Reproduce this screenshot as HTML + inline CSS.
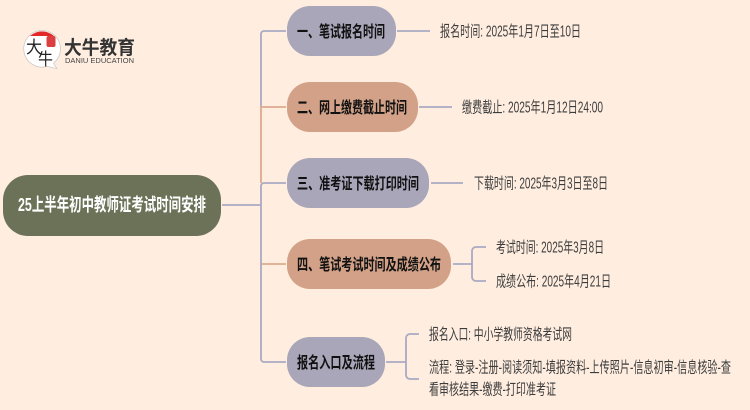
<!DOCTYPE html>
<html lang="zh">
<head>
<meta charset="utf-8">
<title>25上半年初中教师证考试时间安排</title>
<style>
html,body{margin:0;padding:0;background:#ffeee0;width:750px;height:410px;overflow:hidden}
svg{display:block}
text{font-family:"Liberation Sans","Noto Sans CJK SC",sans-serif}
.n{font-size:16px;font-weight:700;fill:#111}
.l{font-size:15.500px;fill:#3c3c3c}
.g{fill:none;stroke:#a9a9c2;stroke-width:1.800}
.t{fill:none;stroke:#dcaa8e;stroke-width:1.800}
</style>
</head>
<body>
<svg width="750" height="410" viewBox="0 0 750 410" xmlns="http://www.w3.org/2000/svg">
<rect width="750" height="410" fill="#ffeee0"/>

<!-- logo -->
<path d="M42 30.500a18.300 18.300 0 1 0 5 35.900l10 2.300-3.500-5.500a18.300 18.300 0 0 0-11.500-32.700z" fill="#fff" stroke="#cfcac6" stroke-width="0.8"/>
<path d="M30 36a18 18 0 0 1 24 0z" fill="#e3282a"/>
<rect x="46.500" y="36" width="9" height="11" rx="2" fill="#d9403f"/>
<text x="26" y="53" font-size="17" fill="#222" textLength="16" lengthAdjust="spacingAndGlyphs">大</text>
<text x="38" y="65" font-size="17" fill="#222" textLength="15" lengthAdjust="spacingAndGlyphs">牛</text>
<text x="64" y="54" font-size="19" font-weight="700" fill="#333" textLength="71" lengthAdjust="spacingAndGlyphs">大牛教育</text>
<text x="65" y="63" font-size="7" fill="#444" textLength="69" lengthAdjust="spacingAndGlyphs">DANIU EDUCATION</text>

<!-- trunk connectors -->
<path class="g" d="M222 205H261"/>
<path class="g" d="M286 31H264a3 3 0 0 0-3 3V107"/>
<path class="t" d="M286 107H261V183"/>
<path class="g" d="M286 183H264a3 3 0 0 0-3 3V359a3 3 0 0 0 3 3H286"/>
<path class="t" d="M262 264H286"/>

<!-- leaf connectors -->
<path class="g" d="M397 31H430"/>
<path class="g" d="M419 107H452"/>
<path class="g" d="M431 183H463"/>
<path class="g" d="M453 264H472"/>
<path class="g" d="M486 247H476a4 4 0 0 0-4 4V277a4 4 0 0 0 4 4H486"/>
<path class="g" d="M386 362H406"/>
<path class="g" d="M419 334H410a4 4 0 0 0-4 4V375a4 4 0 0 0 4 4H419"/>

<!-- root -->
<rect x="3" y="175" width="218" height="61" rx="25" fill="#6b7258"/>
<text x="18" y="211" font-size="18" font-weight="700" fill="#fff" textLength="188" lengthAdjust="spacingAndGlyphs">25上半年初中教师证考试时间安排</text>

<!-- nodes -->
<rect x="287" y="6" width="109" height="50" rx="23" fill="#a8a6b8"/>
<text class="n" x="297" y="37" textLength="88" lengthAdjust="spacingAndGlyphs">一、笔试报名时间</text>

<rect x="287" y="82" width="131" height="50" rx="23" fill="#d2a187"/>
<text class="n" x="297" y="113" textLength="110" lengthAdjust="spacingAndGlyphs">二、网上缴费截止时间</text>

<rect x="287" y="158" width="142" height="50" rx="23" fill="#a8a6b8"/>
<text class="n" x="297" y="189" textLength="122" lengthAdjust="spacingAndGlyphs">三、准考证下载打印时间</text>

<rect x="287" y="239" width="164" height="50" rx="23" fill="#d2a187"/>
<text class="n" x="297" y="270" textLength="144" lengthAdjust="spacingAndGlyphs">四、笔试考试时间及成绩公布</text>

<rect x="287" y="337" width="98" height="50" rx="23" fill="#a8a6b8"/>
<text class="n" x="297" y="368" textLength="78" lengthAdjust="spacingAndGlyphs">报名入口及流程</text>

<!-- leaves -->
<text class="l" x="440" y="36.500" textLength="141" lengthAdjust="spacingAndGlyphs">报名时间: 2025年1月7日至10日</text>
<text class="l" x="462" y="112.500" textLength="141" lengthAdjust="spacingAndGlyphs">缴费截止: 2025年1月12日24:00</text>
<text class="l" x="474" y="188.500" textLength="134" lengthAdjust="spacingAndGlyphs">下载时间: 2025年3月3日至8日</text>
<text class="l" x="496" y="252.500" textLength="108" lengthAdjust="spacingAndGlyphs">考试时间: 2025年3月8日</text>
<text class="l" x="496" y="286.500" textLength="115" lengthAdjust="spacingAndGlyphs">成绩公布: 2025年4月21日</text>
<text class="l" x="429" y="339.500" textLength="143" lengthAdjust="spacingAndGlyphs">报名入口: 中小学教师资格考试网</text>
<text class="l" x="429" y="372.500" textLength="302" lengthAdjust="spacingAndGlyphs">流程: 登录-注册-阅读须知-填报资料-上传照片-信息初审-信息核验-查</text>
<text class="l" x="429" y="394.500" textLength="127" lengthAdjust="spacingAndGlyphs">看审核结果-缴费-打印准考证</text>
</svg>
</body>
</html>
